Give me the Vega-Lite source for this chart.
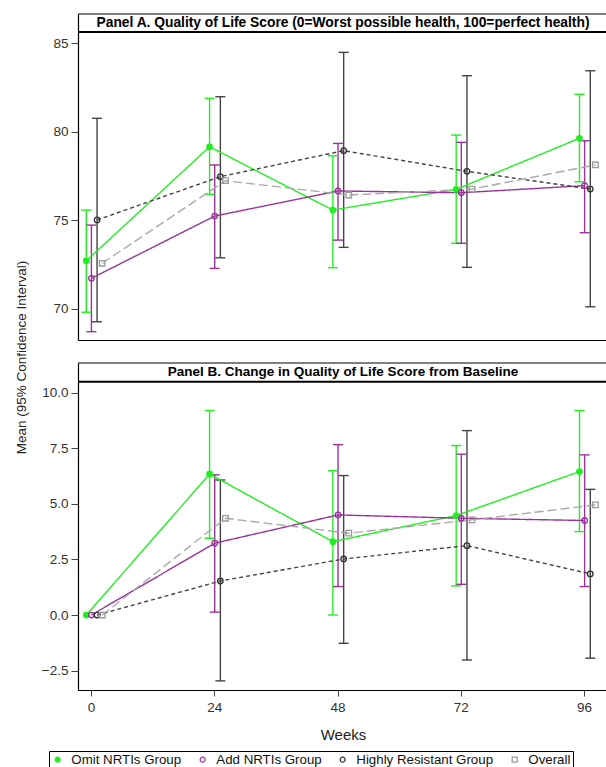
{
  "$schema": "https://vega.github.io/schema/vega-lite/v6.json",
  "background": "white",
  "padding": {"left": 14, "top": 13, "right": 0, "bottom": 0},
  "datasets": {
    "A": [
      {"g": "Omit NRTIs Group", "pos": -0.9, "m": 72.70, "lo": 69.79, "hi": 75.57},
      {"g": "Omit NRTIs Group", "pos": 23.1, "m": 79.15, "lo": 76.46, "hi": 81.89},
      {"g": "Omit NRTIs Group", "pos": 47.1, "m": 75.57, "lo": 72.31, "hi": 78.64},
      {"g": "Omit NRTIs Group", "pos": 71.1, "m": 76.74, "lo": 73.69, "hi": 79.81},
      {"g": "Omit NRTIs Group", "pos": 95.1, "m": 79.63, "lo": 77.17, "hi": 82.12},
      {"g": "Add NRTIs Group", "pos": 0.1, "m": 71.71, "lo": 68.69, "hi": 74.72},
      {"g": "Add NRTIs Group", "pos": 24.1, "m": 75.23, "lo": 72.27, "hi": 78.12},
      {"g": "Add NRTIs Group", "pos": 48.1, "m": 76.65, "lo": 73.87, "hi": 79.34},
      {"g": "Add NRTIs Group", "pos": 72.1, "m": 76.55, "lo": 73.69, "hi": 79.40},
      {"g": "Add NRTIs Group", "pos": 96.1, "m": 76.95, "lo": 74.29, "hi": 79.49},
      {"g": "Highly Resistant Group", "pos": 1.2, "m": 75.01, "lo": 69.25, "hi": 80.76},
      {"g": "Highly Resistant Group", "pos": 25.2, "m": 77.46, "lo": 72.87, "hi": 81.98},
      {"g": "Highly Resistant Group", "pos": 49.2, "m": 78.93, "lo": 73.46, "hi": 84.49},
      {"g": "Highly Resistant Group", "pos": 73.2, "m": 77.76, "lo": 72.33, "hi": 83.17},
      {"g": "Highly Resistant Group", "pos": 97.2, "m": 76.76, "lo": 70.10, "hi": 83.45},
      {"g": "Overall", "pos": 2.2, "m": 72.56},
      {"g": "Overall", "pos": 26.2, "m": 77.23},
      {"g": "Overall", "pos": 50.2, "m": 76.42},
      {"g": "Overall", "pos": 74.2, "m": 76.76},
      {"g": "Overall", "pos": 98.2, "m": 78.12}
    ],
    "B": [
      {"g": "Omit NRTIs Group", "pos": -0.9, "m": 0},
      {"g": "Omit NRTIs Group", "pos": 23.1, "m": 6.34, "lo": 3.45, "hi": 9.19},
      {"g": "Omit NRTIs Group", "pos": 47.1, "m": 3.30, "lo": 0.0, "hi": 6.49},
      {"g": "Omit NRTIs Group", "pos": 71.1, "m": 4.47, "lo": 1.31, "hi": 7.62},
      {"g": "Omit NRTIs Group", "pos": 95.1, "m": 6.45, "lo": 3.75, "hi": 9.19},
      {"g": "Add NRTIs Group", "pos": 0.1, "m": 0},
      {"g": "Add NRTIs Group", "pos": 24.1, "m": 3.23, "lo": 0.13, "hi": 6.30},
      {"g": "Add NRTIs Group", "pos": 48.1, "m": 4.50, "lo": 1.28, "hi": 7.66},
      {"g": "Add NRTIs Group", "pos": 72.1, "m": 4.35, "lo": 1.38, "hi": 7.23},
      {"g": "Add NRTIs Group", "pos": 96.1, "m": 4.25, "lo": 1.28, "hi": 7.20},
      {"g": "Highly Resistant Group", "pos": 1.2, "m": 0},
      {"g": "Highly Resistant Group", "pos": 25.2, "m": 1.53, "lo": -2.96, "hi": 6.07},
      {"g": "Highly Resistant Group", "pos": 49.2, "m": 2.52, "lo": -1.27, "hi": 6.27},
      {"g": "Highly Resistant Group", "pos": 73.2, "m": 3.12, "lo": -2.02, "hi": 8.29},
      {"g": "Highly Resistant Group", "pos": 97.2, "m": 1.85, "lo": -1.94, "hi": 5.65},
      {"g": "Overall", "pos": 2.2, "m": 0},
      {"g": "Overall", "pos": 26.2, "m": 4.35},
      {"g": "Overall", "pos": 50.2, "m": 3.68},
      {"g": "Overall", "pos": 74.2, "m": 4.28},
      {"g": "Overall", "pos": 98.2, "m": 4.95}
    ]
  },
  "config": {
    "view": {"stroke": null},
    "font": "Liberation Sans",
    "axis": {
      "grid": false, "domainColor": "#000", "domainWidth": 1.2,
      "tickColor": "#444", "labelColor": "#333", "labelFontSize": 13.5,
      "labelFont": "Liberation Sans", "titleFont": "Liberation Sans",
      "titleFontWeight": "normal", "titleColor": "#222"
    },
    "legend": {
      "orient": "none", "legendX": -29, "legendY": 737, "direction": "horizontal",
      "strokeColor": "#000", "padding": 2, "labelFontSize": 13.3, "labelColor": "#111",
      "symbolSize": 25, "columnPadding": 14, "labelOffset": 7, "symbolStrokeWidth": 1.2,
      "labelLimit": 300
    }
  },
  "vconcat": [
    {
      "width": 530, "height": 326,
      "data": {"name": "A"},
      "layer": [
        {
          "data": {"values": [{}]},
          "mark": {"type": "rule", "color": "#000", "strokeWidth": 1.2},
          "encoding": {"y": {"datum": 86.66, "type": "quantitative"}}
        },
        {
          "data": {"values": [{}]},
          "mark": {"type": "rule", "color": "#000", "strokeWidth": 2},
          "encoding": {"y": {"datum": 85.64, "type": "quantitative"}}
        },
        {
          "data": {"values": [{}]},
          "mark": {"type": "text", "text": "Panel A. Quality of Life Score (0=Worst possible health, 100=perfect health)", "font": "Liberation Sans", "fontWeight": "bold", "fontSize": 13.8, "baseline": "middle", "color": "#000"},
          "encoding": {"x": {"datum": 49.07, "type": "quantitative"}, "y": {"datum": 86.14, "type": "quantitative"}}
        },
        {
          "transform": [{"filter": "isValid(datum.lo)"}],
          "mark": {"type": "rule", "strokeWidth": 1.4},
          "encoding": {
            "x": {"field": "pos", "type": "quantitative"},
            "y": {"field": "lo", "type": "quantitative"},
            "y2": {"field": "hi"},
            "stroke": {"field": "g", "type": "nominal", "legend": null,
              "scale": {"domain": ["Overall", "Highly Resistant Group", "Add NRTIs Group", "Omit NRTIs Group"], "range": ["#aaaaaa", "#444444", "#993399", "#22ee22"]}}
          }
        },
        {
          "transform": [{"filter": "isValid(datum.lo)"}],
          "mark": {"type": "rule", "strokeWidth": 1.4, "xOffset": -5, "x2Offset": 5},
          "encoding": {
            "x": {"field": "pos", "type": "quantitative"},
            "x2": {"field": "pos"},
            "y": {"field": "lo", "type": "quantitative"},
            "stroke": {"field": "g", "type": "nominal", "legend": null}
          }
        },
        {
          "transform": [{"filter": "isValid(datum.lo)"}],
          "mark": {"type": "rule", "strokeWidth": 1.4, "xOffset": -5, "x2Offset": 5},
          "encoding": {
            "x": {"field": "pos", "type": "quantitative"},
            "x2": {"field": "pos"},
            "y": {"field": "hi", "type": "quantitative"},
            "stroke": {"field": "g", "type": "nominal", "legend": null}
          }
        },
        {
          "mark": {"type": "line", "strokeWidth": 1.4},
          "encoding": {
            "x": {"field": "pos", "type": "quantitative"},
            "y": {"field": "m", "type": "quantitative"},
            "stroke": {"field": "g", "type": "nominal", "legend": null},
            "strokeDash": {"field": "g", "type": "nominal", "legend": null,
              "scale": {"domain": ["Highly Resistant Group", "Overall", "Omit NRTIs Group", "Add NRTIs Group"], "range": [[4, 3], [9, 4], [1, 0], [1, 0]]}},
            "order": {"field": "pos"}
          }
        },
        {
          "mark": {"type": "point", "filled": false, "size": 30, "strokeWidth": 1.3, "opacity": 1},
          "encoding": {
            "x": {"field": "pos", "type": "quantitative", "scale": {"domain": [-2.51, 100.65], "nice": false, "zero": false},
              "axis": {"labels": false, "ticks": false, "title": null, "orient": "bottom"}},
            "y": {"field": "m", "type": "quantitative", "scale": {"domain": [68.22, 86.66], "nice": false, "zero": false},
              "axis": {"values": [70, 75, 80, 85], "tickSize": 7, "labelPadding": 3,
                "title": "Mean (95% Confidence Interval)", "titleFontSize": 13.5, "titleY": 343, "titleX": -50, "titleAnchor": "middle"}},
            "color": {"field": "g", "type": "nominal", "title": null,
              "scale": {"domain": ["Omit NRTIs Group", "Add NRTIs Group", "Highly Resistant Group", "Overall"], "range": ["#22ee22", "#993399", "#333333", "#999999"]}},
            "fill": {"field": "g", "type": "nominal", "title": null,
              "scale": {"domain": ["Omit NRTIs Group", "Add NRTIs Group", "Highly Resistant Group", "Overall"], "range": ["#22ee22", "transparent", "transparent", "transparent"]}},
            "shape": {"field": "g", "type": "nominal", "title": null,
              "scale": {"domain": ["Omit NRTIs Group", "Add NRTIs Group", "Highly Resistant Group", "Overall"], "range": ["circle", "circle", "circle", "square"]}}
          }
        }
      ]
    },
    {
      "width": 530, "height": 327,
      "data": {"name": "B"},
      "layer": [
        {
          "data": {"values": [{}]},
          "mark": {"type": "rule", "color": "#000", "strokeWidth": 1.2},
          "encoding": {"y": {"datum": 11.33, "type": "quantitative"}}
        },
        {
          "data": {"values": [{}]},
          "mark": {"type": "rule", "color": "#000", "strokeWidth": 2},
          "encoding": {"y": {"datum": 10.49, "type": "quantitative"}}
        },
        {
          "data": {"values": [{}]},
          "mark": {"type": "text", "text": "Panel B. Change in Quality of Life Score from Baseline", "font": "Liberation Sans", "fontWeight": "bold", "fontSize": 13.5, "baseline": "middle", "color": "#000"},
          "encoding": {"x": {"datum": 49.07, "type": "quantitative"}, "y": {"datum": 10.91, "type": "quantitative"}}
        },
        {
          "transform": [{"filter": "isValid(datum.lo)"}],
          "mark": {"type": "rule", "strokeWidth": 1.4},
          "encoding": {
            "x": {"field": "pos", "type": "quantitative"},
            "y": {"field": "lo", "type": "quantitative"},
            "y2": {"field": "hi"},
            "stroke": {"field": "g", "type": "nominal", "legend": null}
          }
        },
        {
          "transform": [{"filter": "isValid(datum.lo)"}],
          "mark": {"type": "rule", "strokeWidth": 1.4, "xOffset": -5, "x2Offset": 5},
          "encoding": {
            "x": {"field": "pos", "type": "quantitative"},
            "x2": {"field": "pos"},
            "y": {"field": "lo", "type": "quantitative"},
            "stroke": {"field": "g", "type": "nominal", "legend": null}
          }
        },
        {
          "transform": [{"filter": "isValid(datum.lo)"}],
          "mark": {"type": "rule", "strokeWidth": 1.4, "xOffset": -5, "x2Offset": 5},
          "encoding": {
            "x": {"field": "pos", "type": "quantitative"},
            "x2": {"field": "pos"},
            "y": {"field": "hi", "type": "quantitative"},
            "stroke": {"field": "g", "type": "nominal", "legend": null}
          }
        },
        {
          "mark": {"type": "line", "strokeWidth": 1.4},
          "encoding": {
            "x": {"field": "pos", "type": "quantitative"},
            "y": {"field": "m", "type": "quantitative"},
            "stroke": {"field": "g", "type": "nominal", "legend": null},
            "strokeDash": {"field": "g", "type": "nominal", "legend": null},
            "order": {"field": "pos"}
          }
        },
        {
          "mark": {"type": "point", "filled": false, "size": 30, "strokeWidth": 1.3, "opacity": 1},
          "encoding": {
            "x": {"field": "pos", "type": "quantitative", "scale": {"domain": [-2.51, 100.65], "nice": false, "zero": false},
              "axis": {"values": [0, 24, 48, 72, 96], "tickSize": 6, "labelPadding": 4, "title": "Weeks", "titleFontSize": 15, "titlePadding": 14, "orient": "bottom"}},
            "y": {"field": "m", "type": "quantitative", "scale": {"domain": [-3.37, 11.33], "nice": false, "zero": false},
              "axis": {"values": [-2.5, 0, 2.5, 5, 7.5, 10], "format": ".1f", "tickSize": 7, "labelPadding": 3, "title": null}},
            "color": {"field": "g", "type": "nominal", "title": null},
            "fill": {"field": "g", "type": "nominal", "title": null},
            "shape": {"field": "g", "type": "nominal", "title": null}
          }
        }
      ]
    }
  ],
  "spacing": 23,
  "bounds": "flush",
  "resolve": {"scale": {"color": "shared", "fill": "shared", "shape": "shared", "stroke": "shared", "strokeDash": "shared"}}
}
